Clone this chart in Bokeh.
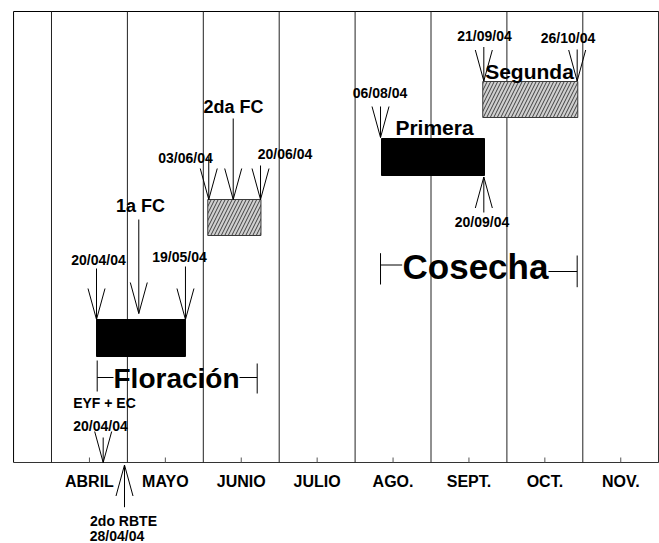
from bokeh.plotting import figure
from bokeh.models import Range1d
from bokeh.embed import file_html
from bokeh.resources import INLINE
from bokeh.core.properties import value

# ---------------- data ----------------
# x: months counted from 1 April 2004 (0 = 1 Apr, 1 = 1 May, ...)
# y: height above the time axis (arbitrary units)
months = ["ABRIL", "MAYO", "JUNIO", "JULIO", "AGO.", "SEPT.", "OCT.", "NOV."]

# event bars
bar_names = ["1a FC", "2da FC", "Primera", "Segunda"]
bar_start = [0.593, 2.059, 4.348, 5.682]
bar_end = [1.765, 2.760, 5.705, 6.934]
bar_low = [106, 227, 287, 345]
bar_high = [143, 263, 324, 381]
bar_hatched = [False, True, False, True]

# arrows (+1 = pointing down, -1 = pointing up)
arrow_x = [0.593, 1.150, 1.765, 2.072, 2.394, 2.754, 4.335, 5.696, 5.696, 6.926, 0.681, 0.962]
arrow_tip = [143, 149, 143, 263, 263, 263, 325, 285.5, 381.5, 381.5, 0, -2.5]
arrow_tail = [194, 243, 196, 306, 344, 297, 356, 250, 415.5, 413, 25, -44.7]
arrow_dir = [1, 1, 1, 1, 1, 1, 1, -1, 1, 1, 1, -1]

# period spans (Floración, Cosecha)
span_names = ["Floración", "Cosecha"]
span_start = [0.602, 4.335]
span_end = [2.710, 6.926]
span_gap_left = [0.817, 4.620]
span_gap_right = [2.477, 6.548]
span_left_y = [85, 197.5]
span_right_y = [85, 191]
span_left_cap = [(71, 102), (178, 209.3)]
span_right_cap = [(69, 99), (175.3, 207)]
span_text_x = [1.647, 5.586]
span_text_y = [74, 184]
span_text_size = [28, 35]

# text labels
label_text = ["1a FC", "2da FC", "20/04/04", "19/05/04", "03/06/04", "20/06/04",
              "06/08/04", "Primera", "20/09/04", "21/09/04", "26/10/04", "Segunda",
              "EYF + EC", "20/04/04", "2do RBTE", "28/04/04"]
label_x = [1.173, 2.398, 0.619, 1.686, 1.765, 3.076,
           4.328, 5.046, 5.672, 5.705, 6.805, 6.298,
           0.698, 0.646, 0.949, 0.863]
label_y = [250, 349, 198, 201, 300, 303.5,
           364.5, 328, 236, 422, 420, 384,
           55, 32, -63, -78]
label_size = [18, 18, 14, 14, 14, 14,
              14, 21, 14, 14, 14, 21,
              14, 14, 14, 14]

# ---------------- layout ----------------
X0, X1 = -0.6719, 8.0105
Y0, Y1 = -81, 462
FRAME_L, FRAME_R, FRAME_T = -0.5, 8.0, 451
HEAD_LEN, HEAD_HW = 31, 0.112
BASE_SHIFT = 0.35  # baseline compensation (fraction of font size)
FONT = value("Liberation Sans")

p = figure(width=659, height=543, output_backend="svg", toolbar_location=None,
           x_range=Range1d(X0, X1), y_range=Range1d(Y0, Y1),
           x_axis_type=None, y_axis_type=None, min_border=0)
p.grid.visible = False
p.outline_line_color = None
p.background_fill_color = "white"
p.border_fill_color = "white"


def label(xs, ys, texts, size):
    p.text(x=xs, y=[y + BASE_SHIFT * size for y in ys], text=texts, text_font=FONT,
           text_font_size=f"{size}px", text_font_style="bold", text_align="center",
           text_baseline="alphabetic", text_color="black")


# frame
p.segment(x0=[FRAME_L, FRAME_L, FRAME_R], y0=[0, FRAME_T, 0],
          x1=[FRAME_L, FRAME_R, FRAME_R], y1=[FRAME_T, FRAME_T, FRAME_T],
          line_color="black", line_width=1)
p.segment(x0=[FRAME_L], y0=[0], x1=[FRAME_R], y1=[0], line_color="#333333", line_width=1.2)

# month boundaries and mid-month ticks
bounds = list(range(len(months)))
p.segment(x0=bounds, y0=[0] * len(bounds), x1=bounds, y1=[FRAME_T] * len(bounds),
          line_color="#222222", line_width=1)
mids = [i + 0.5 for i in range(len(months))]
p.segment(x0=mids, y0=[0] * len(mids), x1=mids, y1=[5] * len(mids),
          line_color="#555555", line_width=1)
label(mids, [-24.5] * len(mids), months, 16)

# bars
for s, e, lo, hi, h in zip(bar_start, bar_end, bar_low, bar_high, bar_hatched):
    if h:
        p.quad(left=[s], right=[e], bottom=[lo], top=[hi], fill_color="#cfcfcf",
               line_color="#3a3a3a", line_width=1, hatch_pattern="/",
               hatch_color="#1a1a1a", hatch_scale=7, hatch_weight=0.8)
    else:
        p.quad(left=[s], right=[e], bottom=[lo], top=[hi], fill_color="black",
               line_color="black")

# arrows
sx0, sy0, sx1, sy1 = [], [], [], []
for x, tip, tail, d in zip(arrow_x, arrow_tip, arrow_tail, arrow_dir):
    sx0 += [x, x, x]
    sy0 += [tail, tip, tip]
    sx1 += [x, x - HEAD_HW, x + HEAD_HW]
    sy1 += [tip, tip + d * HEAD_LEN, tip + d * HEAD_LEN]
p.segment(x0=sx0, y0=sy0, x1=sx1, y1=sy1, line_color="black", line_width=1)

# spans
for i in range(len(span_names)):
    p.segment(x0=[span_start[i], span_gap_right[i]], y0=[span_left_y[i], span_right_y[i]],
              x1=[span_gap_left[i], span_end[i]], y1=[span_left_y[i], span_right_y[i]],
              line_color="black", line_width=1)
    p.segment(x0=[span_start[i], span_end[i]],
              y0=[span_left_cap[i][0], span_right_cap[i][0]],
              x1=[span_start[i], span_end[i]],
              y1=[span_left_cap[i][1], span_right_cap[i][1]],
              line_color="black", line_width=1)
    label([span_text_x[i]], [span_text_y[i]], [span_names[i]], span_text_size[i])

# labels
for t, x, y, s in zip(label_text, label_x, label_y, label_size):
    label([x], [y], [t], s)

open("out.html", "w").write(file_html(p, INLINE))
